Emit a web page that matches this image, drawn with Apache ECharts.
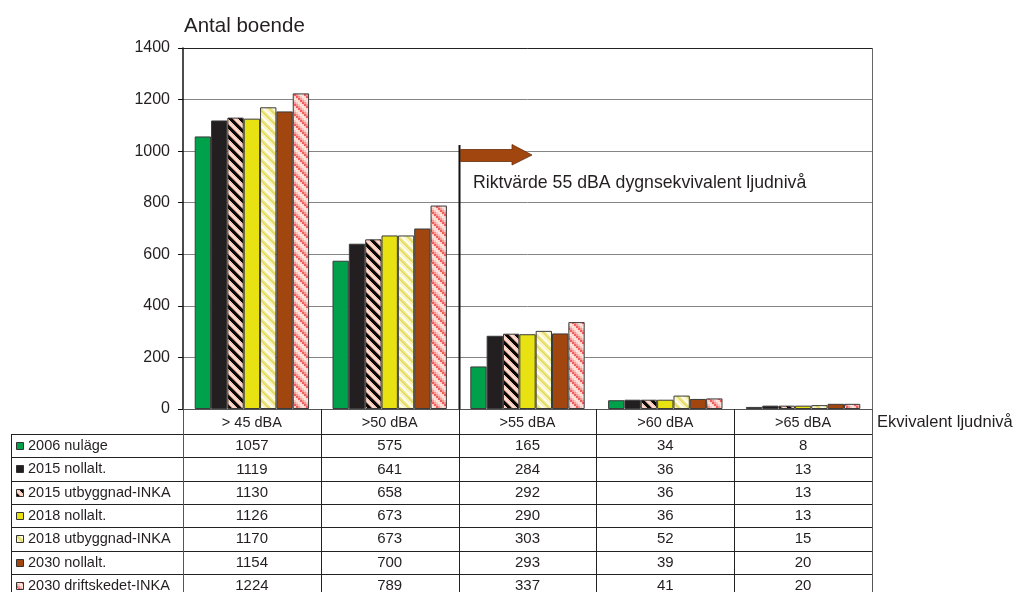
<!DOCTYPE html>
<html><head><meta charset="utf-8">
<script src="https://cdn.jsdelivr.net/npm/echarts@6/dist/echarts.min.js"></script>
<style>html,body{margin:0;padding:0;background:#fff}#c{width:1026px;height:592px}</style>
</head><body><div id="c"></div>
<script>
// ---- data ----
const categories = ['> 45 dBA', '>50 dBA', '>55 dBA', '>60 dBA', '>65 dBA'];
const seriesNames = ['2006 nuläge', '2015 nollalt.', '2015 utbyggnad-INKA', '2018 nollalt.', '2018 utbyggnad-INKA', '2030 nollalt.', '2030 driftskedet-INKA'];
const v2006nulage = [1057, 575, 165, 34, 8];
const v2015noll = [1119, 641, 284, 36, 13];
const v2015utb = [1130, 658, 292, 36, 13];
const v2018noll = [1126, 673, 290, 36, 13];
const v2018utb = [1170, 673, 303, 52, 15];
const v2030noll = [1154, 700, 293, 39, 20];
const v2030drift = [1224, 789, 337, 41, 20];
const seriesValues = [v2006nulage, v2015noll, v2015utb, v2018noll, v2018utb, v2030noll, v2030drift];
const yTicks = [0, 200, 400, 600, 800, 1000, 1200, 1400];
const yTitle = 'Antal boende';
const xTitle = 'Ekvivalent ljudnivå';
const noteText = 'Riktvärde 55 dBA dygnsekvivalent ljudnivå';

// ---- patterns ----
function makePattern(n, fn) {
  const c = document.createElement('canvas');
  c.width = n; c.height = n;
  const ctx = c.getContext('2d');
  for (let y = 0; y < n; y++) for (let x = 0; x < n; x++) {
    ctx.fillStyle = fn(x, y);
    ctx.fillRect(x, y, 1, 1);
  }
  return { image: c, repeat: 'repeat' };
}
const patStripe = makePattern(10, (x, y) => {
  const d = ((x - y) % 10 + 10) % 10;
  if (d < 4) return '#0a0a0a';
  if (d === 4) return '#b07868';
  if (d === 6 || d === 7) return '#fbe2d8';
  return '#f5c3b1';
});
const patYellow = makePattern(10, (x, y) => {
  const d = ((x - y) % 10 + 10) % 10;
  if (d < 2) return '#e4dc60';
  if (d < 4) return '#efe890';
  if (d < 7) return '#fefcea';
  return '#f8f3bc';
});
const patPink = makePattern(10, (x, y) => {
  const bx = Math.floor(x / 2), by = Math.floor(y / 2);
  const d = ((bx - by) % 5 + 5) % 5;
  return ['#ef5e5e', '#f59a96', '#fac8c0', '#fde6e0', '#fbd4cc'][d];
});
const fills = ['#00a14b', '#231f20', patStripe, '#e9e213', patYellow, '#a2460f', patPink];

// ---- layout ----
const L = 183, R = 872, TOP = 48, BASE = 409;
const cw = (R - L) / 5;
const headH = 25, rowH = 23.3;
const tabTop = BASE + headH;
const FONT = '"Liberation Sans", Arial, sans-serif';
const lineCol = '#222';

const graphic = [];
function line(x1, y1, x2, y2, color, w) {
  graphic.push({ type: 'line', silent: true, z: 50, shape: { x1, y1, x2, y2 }, style: { stroke: color || lineCol, lineWidth: w || 1 } });
}
function text(x, y, t, size, align, extra) {
  graphic.push(Object.assign({ type: 'text', silent: true, z: 51, x, y, style: { text: t, font: size + 'px ' + FONT, fill: '#231f20', textAlign: align || 'center', textVerticalAlign: 'middle' } }, extra || {}));
}
// table lines
const bottomY = 600;
line(11.5, tabTop + 0.5, R + 0.5, tabTop + 0.5);
for (let i = 1; i <= 7; i++) line(11.5, Math.round(tabTop + i * rowH) + 0.5, R + 0.5, Math.round(tabTop + i * rowH) + 0.5);
line(11.5, tabTop, 11.5, bottomY);
for (let c = 0; c <= 5; c++) {
  const x = Math.round(L + c * cw) + 0.5;
  line(x, c === 0 ? BASE - 4 : BASE, x, bottomY, c === 0 || c === 5 ? '#555' : lineCol);
}
line(R + 0.5, TOP, R + 0.5, BASE, '#666');
line(L, TOP + 0.5, R, TOP + 0.5, '#222');
// table content
seriesNames.forEach((n, i) => {
  const cy = tabTop + rowH * (i + 0.5) + 0.5;
  graphic.push({ type: 'rect', silent: true, z: 51, shape: { x: 16.5, y: Math.round(cy - 4) + 0.5, width: 7, height: 7 }, style: { fill: fills[i], stroke: '#333', lineWidth: 1 } });
  text(28, cy, n, 14.5, 'left');
  seriesValues[i].forEach((v, c) => text(L + cw * (c + 0.5), cy, String(v), 15, 'center'));
});
// annotation
const bx = Math.round(L + 2 * cw) + 0.5;
line(bx, 145, bx, BASE, '#111', 2);
graphic.push({ type: 'polygon', silent: true, z: 52, shape: { points: [[bx + 1, 149.5], [512, 149.5], [512, 144.5], [532, 155], [512, 165], [512, 161.5], [bx + 1, 161.5]] }, style: { fill: '#a2460f', stroke: '#6a2d08', lineWidth: 0.8 } });
text(473, 183, noteText, 17.7, 'left');
text(877, 422, xTitle, 16.5, 'left');

const chart = echarts.init(document.getElementById('c'), null, { renderer: 'canvas' });
chart.setOption({
  animation: false,
  backgroundColor: '#fff',
  grid: { left: L, right: 1026 - R, top: TOP, bottom: 592 - BASE },
  xAxis: {
    type: 'category', data: categories,
    axisLine: { lineStyle: { color: '#555', width: 1 } },
    axisTick: { show: false },
    axisLabel: { fontSize: 14.5, fontFamily: FONT, color: '#231f20', margin: 6 },
    splitLine: { show: false }
  },
  yAxis: {
    type: 'value', min: 0, max: 1400, interval: 200,
    name: yTitle, nameLocation: 'end', nameGap: 11,
    nameTextStyle: { fontSize: 20.5, fontFamily: FONT, color: '#231f20', align: 'left', padding: [0, 0, 0, 1] },
    axisLine: { show: true, lineStyle: { color: '#111', width: 1.5 } },
    axisTick: { show: true, length: 5, lineStyle: { color: '#111' } },
    axisLabel: { fontSize: 16, fontFamily: FONT, color: '#231f20', margin: 13, formatter: v => yTicks.includes(v) ? String(v) : '' },
    splitLine: { lineStyle: { color: '#858585', width: 1 } }
  },
  series: seriesNames.map((n, i) => ({
    name: n, type: 'bar', data: seriesValues[i],
    barGap: '0%', barCategoryGap: '17%',
    itemStyle: { color: fills[i], borderColor: '#3a3a3a', borderWidth: 1 }
  })),
  graphic: graphic
});
</script></body></html>
